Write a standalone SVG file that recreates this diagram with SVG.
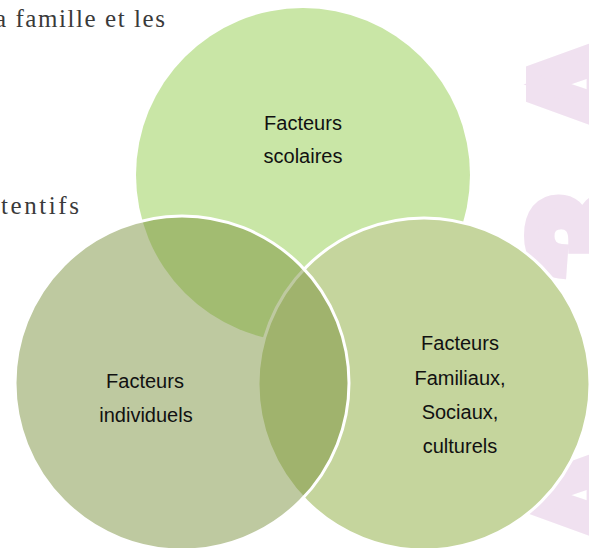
<svg xmlns="http://www.w3.org/2000/svg" width="589" height="548" viewBox="0 0 589 548">
  <style>
    .bg { font-family: "Liberation Serif", "DejaVu Serif", serif; font-size: 25px; fill: #3a3a3a; }
    .wm { font-family: "Liberation Sans", Arial, sans-serif; font-weight: bold; font-size: 150px; fill: #f0e1f0; stroke: #f0e1f0; stroke-width: 14; stroke-linejoin: miter; text-anchor: middle; }
    .lbl { font-family: "Liberation Sans", Arial, sans-serif; font-size: 20px; fill: #111111; text-anchor: middle; }
    .edge { stroke: #ffffff; stroke-width: 3; }
  </style>
  <rect width="589" height="548" fill="#ffffff"/>

  <g id="background-text">
    <text class="bg" x="-5" y="27" textLength="170" lengthAdjust="spacing">a famille et les</text>
    <text class="bg" x="1" y="214" textLength="78" lengthAdjust="spacing">tentifs</text>
  </g>

  <g id="watermark">
    <text class="wm" transform="translate(636,84) rotate(-90)">A</text>
    <text class="wm" transform="translate(636,235) rotate(-90)">3</text>
    <text class="wm" transform="translate(636,495) rotate(-90)">A</text>
  </g>

  <g id="connectors"></g>

  <g id="node-scolaires">
    <circle cx="303" cy="175" r="167" fill="#c9e6a6"/>
    <text class="lbl" x="303" y="130">Facteurs</text>
    <text class="lbl" x="303" y="163">scolaires</text>
  </g>

  <g id="node-familiaux">
    <circle class="edge" cx="424" cy="384" r="166" fill="#c5d59d"/>
    <text class="lbl" x="460" y="350">Facteurs</text>
    <text class="lbl" x="460" y="385">Familiaux,</text>
    <text class="lbl" x="460" y="419">Sociaux,</text>
    <text class="lbl" x="460" y="453">culturels</text>
  </g>

  <g id="node-individuels">
    <circle class="edge" cx="182" cy="383" r="167" fill="#788e39" fill-opacity="0.48"/>
    <text class="lbl" x="145" y="388">Facteurs</text>
    <text class="lbl" x="146" y="422">individuels</text>
  </g>
</svg>
